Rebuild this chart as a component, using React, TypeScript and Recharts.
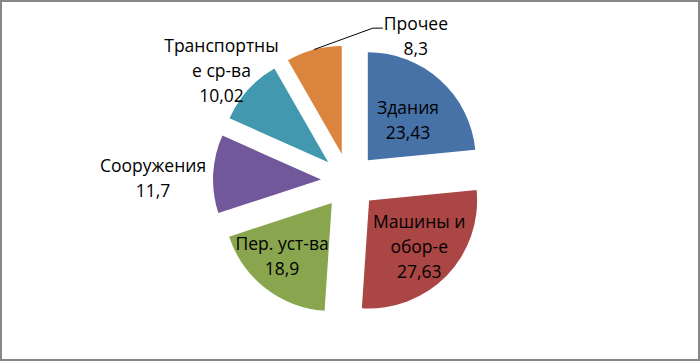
import React from 'react';
import { PieChart, Pie, Cell, Sector } from 'recharts';

const categories = ['Здания', 'Машины и обор-е', 'Пер. уст-ва', 'Сооружения', 'Транспортные ср-ва', 'Прочее'];
const values = [23.43, 27.63, 18.9, 11.7, 10.02, 8.3];
const labelLines = [['Здания'], ['Машины и', 'обор-е'], ['Пер. уст-ва'], ['Сооружения'], ['Транспортны', 'е ср-ва'], ['Прочее']];

const colors = ['#4672A8', '#AA4644', '#89A54E', '#71589A', '#4198AF', '#DB843D'];
// label placement: radius from pie centre and polar angle (deg)
const labelRadius = [85, 96, 100, 196, 169, 160];
const labelAngle = [46, -43, -132, 179, 139, 65.3];
const hasLeader = [false, false, false, false, false, true];

const EXPLODE = 28;
const RAD = Math.PI / 180;
const FONT = '"Open Sans", "Noto Sans", sans-serif';
const FONT_SIZE = 17.5;
const LINE_H = 25;

const data = categories.map((name, i) => ({ name, value: values[i] }));

const fmt = (v: number) => String(v).replace('.', ',');

const ExplodedSector = (props: any) => {
  const { cx, cy, midAngle } = props;
  const dx = EXPLODE * Math.cos(-midAngle * RAD);
  const dy = EXPLODE * Math.sin(-midAngle * RAD);
  return <Sector {...props} cx={cx + dx} cy={cy + dy} />;
};

const renderLabel = (props: any) => {
  const { cx, cy, index, midAngle, outerRadius, value } = props;
  const lines = [...labelLines[index], fmt(value)];
  const a = labelAngle[index] * RAD;
  const x = cx + labelRadius[index] * Math.cos(a);
  const y = cy - labelRadius[index] * Math.sin(a);
  const y0 = y - ((lines.length - 1) * LINE_H) / 2;
  let leader = null;
  if (hasLeader[index]) {
    const r = EXPLODE + outerRadius;
    const sx = cx + r * Math.cos(-midAngle * RAD);
    const sy = cy + r * Math.sin(-midAngle * RAD);
    const ex = x - 33;
    const ey = y0 + 5;
    leader = (
      <polyline
        points={`${sx},${sy} ${ex - 10},${ey} ${ex},${ey}`}
        fill="none"
        stroke="#000"
        strokeWidth={1}
      />
    );
  }
  return (
    <g key={`lbl-${index}`}>
      {leader}
      <text
        x={x}
        y={y0}
        textAnchor="middle"
        fill="#000"
        fontFamily={FONT}
        fontSize={FONT_SIZE}
      >
        {lines.map((l, i) => (
          <tspan key={i} x={x} y={y0 + i * LINE_H} dominantBaseline="central">
            {l}
          </tspan>
        ))}
      </text>
    </g>
  );
};

export default function App() {
  return (
    <div
      style={{
        position: 'absolute',
        left: 0,
        top: 0,
        width: 700,
        height: 361,
        boxSizing: 'border-box',
        border: '2px solid #878787',
        background: '#fff',
      }}
    >
      <div style={{ position: 'absolute', left: -2, top: -2 }}>
        <PieChart width={700} height={361} margin={{ top: 0, right: 0, bottom: 0, left: 0 }}>
          <Pie
            data={data}
            dataKey="value"
            nameKey="name"
            cx={349}
            cy={181}
            outerRadius={108}
            startAngle={90}
            endAngle={-270}
            stroke="none"
            shape={ExplodedSector}
            label={renderLabel}
            labelLine={false}
            isAnimationActive={false}
          >
            {data.map((d, i) => (
              <Cell key={d.name} fill={colors[i]} />
            ))}
          </Pie>
        </PieChart>
      </div>
    </div>
  );
}
